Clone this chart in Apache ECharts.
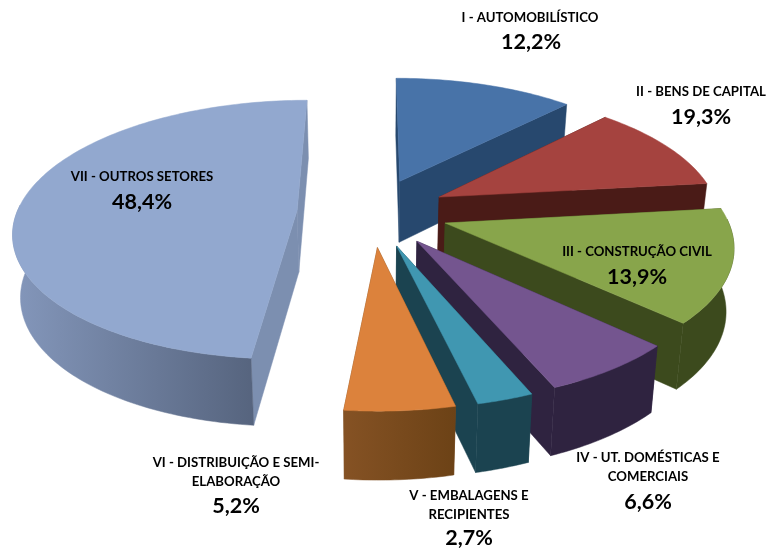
<!DOCTYPE html>
<html>
<head>
<meta charset="utf-8">
<title>Setores</title>
<style>
  html, body { margin: 0; padding: 0; background: #fff; }
  #main { width: 767px; height: 549px; }
</style>
</head>
<body>
<div id="main"></div>
<script src="https://cdn.jsdelivr.net/npm/echarts@6/dist/echarts.min.js"></script>
<script>
// slices as drawn, clockwise from 12 o'clock
const sectors = ['I - AUTOMOBILÍSTICO', 'II - BENS DE CAPITAL', 'III - CONSTRUÇÃO CIVIL',
  'IV - UT. DOMÉSTICAS E\nCOMERCIAIS', 'V - EMBALAGENS E\nRECIPIENTES',
  'VI - DISTRIBUIÇÃO E SEMI-\nELABORAÇÃO', 'VII - OUTROS SETORES'];
// share of the pie each slice really takes up in the picture
const shares = [12.2, 11.0, 13.9, 6.6, 2.7, 5.2, 48.4];
// printed labels (II is printed 19,3% but drawn at about 11%)
const printed = ['12,2%', '19,3%', '13,9%', '6,6%', '2,7%', '5,2%', '48,4%'];

const topColors = ['#4873a8', '#a5433f', '#88a54b', '#74558f', '#4097b1', '#dc823c', '#92a8cf'];
const cutColors = ['#27486e', '#4a1b17', '#3c4a1d', '#2f2340', '#1b4350', '#7a4a1e', '#7c8fb0'];
const wallColors = [['#27486e', '#27486e'], ['#4a1b17', '#4a1b17'], ['#3c4a1d', '#3c4a1d'],
  ['#2f2340', '#2f2340'], ['#1b4350', '#1b4350'], ['#855224', '#6c4216'], ['#8497bb', '#56647e']];
const labelAt = [[530, 18], [701, 92], [637, 252], [648, 467], [469, 505], [236, 472], [142, 177]];
const valueAt = [[531, 42], [701, 117], [637, 277], [648, 502], [469, 538], [236, 506], [142, 202]];

// pie plane projection
const cx = 372.5, cy = 212, rx = 280, ry = 127, k = 0.15;
const explode = 0.27;
const depth = 62, shrinkX = 0.978, growY = 1.035;

function project(X, Y, low) {
  const s = 1 / (1 - k * Y);
  const x = rx * X * s, y = ry * Y * s;
  if (low) return [cx + x * shrinkX, cy + depth + y * growY];
  return [cx + x, cy + y];
}

const total = shares.reduce((a, b) => a + b, 0);

function renderSlice(params, api) {
  const i = api.value(0);
  let before = 0;
  for (let j = 0; j < i; j++) before += shares[j];
  const a0 = before / total * Math.PI * 2;
  const a1 = (before + shares[i]) / total * Math.PI * 2;
  const mid = (a0 + a1) / 2;
  const ox = Math.sin(mid) * explode, oy = -Math.cos(mid) * explode;

  const rim = [], wallTop = [], wallLow = [];
  const steps = Math.max(24, Math.round(shares[i] * 3));
  let first, last;
  for (let n = 0; n <= steps; n++) {
    const a = a0 + (a1 - a0) * n / steps;
    const X = ox + Math.sin(a), Y = oy - Math.cos(a);
    const p = project(X, Y, false);
    rim.push(p);
    if (n === 0) first = project(X, Y, true);
    if (n === steps) last = project(X, Y, true);
    // only the front half of the rim can be seen
    if (Math.cos(a) < 0.05) {
      wallTop.push(p);
      wallLow.push(project(X, Y, true));
    }
  }
  const apex = project(ox, oy, false), apexLow = project(ox, oy, true);
  const poly = (points, fill) => ({
    type: 'polygon',
    shape: { points: points },
    style: { fill: fill, stroke: fill, lineWidth: 0.5 }
  });
  const wallFill = {
    type: 'linear', x: 0, y: 0, x2: 1, y2: 0,
    colorStops: [{ offset: 0, color: wallColors[i][0] }, { offset: 1, color: wallColors[i][1] }]
  };
  const children = [
    poly([apex, rim[0], first, apexLow], cutColors[i]),
    poly([apex, rim[steps], last, apexLow], cutColors[i])
  ];
  if (wallTop.length > 1) children.push(poly(wallTop.concat(wallLow.reverse()), wallFill));
  children.push(poly([apex].concat(rim), topColors[i]));
  return { type: 'group', children: children };
}

function renderLabel(params, api) {
  const i = api.value(0);
  const text = (x, y, str, size, lh) => ({
    type: 'text',
    x: x, y: y,
    style: {
      text: str, fill: '#000', align: 'center', verticalAlign: 'middle',
      font: 'bold ' + size + 'px Lato, "Open Sans", sans-serif', lineHeight: lh
    }
  });
  return {
    type: 'group',
    children: [
      text(labelAt[i][0], labelAt[i][1], sectors[i], 13.2, 19),
      text(valueAt[i][0], valueAt[i][1], printed[i], 21.5, 24)
    ]
  };
}

const chart = echarts.init(document.getElementById('main'), null, { renderer: 'canvas' });
const rows = shares.map((v, i) => [i, v]);
chart.setOption({
  animation: false,
  backgroundColor: '#fff',
  series: [
    { type: 'custom', coordinateSystem: 'none', renderItem: renderSlice, data: rows, silent: true, z: 2 },
    { type: 'custom', coordinateSystem: 'none', renderItem: renderLabel, data: rows, silent: true, z: 3 }
  ]
});
</script>
</body>
</html>
